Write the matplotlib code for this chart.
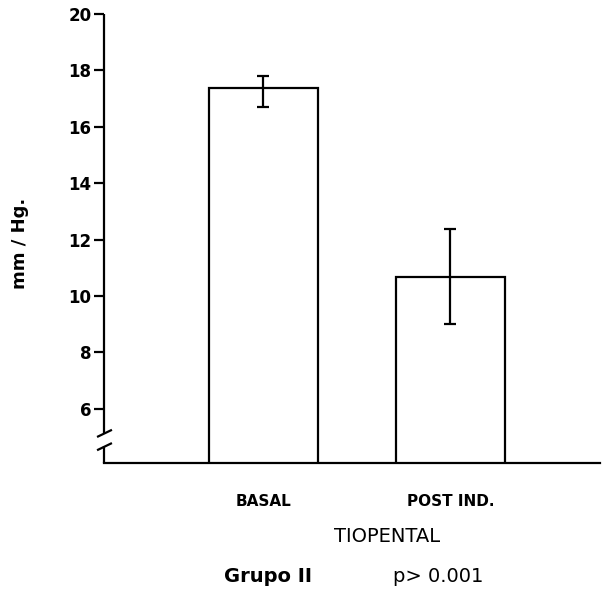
import matplotlib
matplotlib.use("Agg")
import matplotlib.pyplot as plt

# data
groups = ["BASAL", "POST IND."]
means = [17.38, 10.67]
err_low = [16.70, 9.01]
err_high = [17.80, 12.38]
yticks = [6, 8, 10, 12, 14, 16, 18, 20]

plt.rcParams["font.family"] = ["DejaVu Sans"]

fig = plt.figure(figsize=(6.06, 6.01), dpi=100)
ax = fig.add_axes([104 / 606, 0.2296, 496 / 606, 0.7471])

x = list(range(len(groups)))
yerr = [[m - lo for m, lo in zip(means, err_low)],
        [hi - m for m, hi in zip(means, err_high)]]
ax.bar(x, means, width=0.58, bottom=0, color="white", edgecolor="black",
       linewidth=1.6, zorder=2)
ax.errorbar(x, means, yerr=yerr, fmt="none", ecolor="black", elinewidth=1.6,
            capsize=4.5, capthick=1.6, zorder=3)

ax.set_xlim(-0.853, 1.80)
ax.set_ylim(4.08, 20)

# axes styling
for s in ["top", "right", "left"]:
    ax.spines[s].set_visible(False)
ax.spines["bottom"].set_linewidth(1.6)

# broken y axis drawn by hand
yt = ax.get_yaxis_transform()
ax.plot([0, 0], [5.15, 20], color="black", lw=1.6, transform=yt,
        clip_on=False, solid_capstyle="butt")
ax.plot([0, 0], [4.08, 4.68], color="black", lw=1.6, transform=yt,
        clip_on=False, solid_capstyle="butt")
for yb in [5.12, 4.65]:
    ax.plot([-0.012, 0.014], [yb - 0.1, yb + 0.12], color="black", lw=1.6,
            transform=yt, clip_on=False)

ax.set_yticks(yticks)
ax.set_yticklabels([str(t) for t in yticks], fontsize=12, fontweight="bold")
ax.tick_params(axis="y", direction="out", length=7, width=1.6, pad=2)

ax.set_xticks(x)
ax.set_xticklabels(groups, fontsize=11, fontweight="bold")
ax.tick_params(axis="x", length=0, pad=22)

fig.text(20 / 606, 0.595, "mm / Hg.", rotation=90, ha="center", va="center",
         fontsize=13, fontweight="bold")
fig.text(387 / 606, 0.1065, "TIOPENTAL", ha="center", va="center", fontsize=14)
fig.text(268 / 606, 0.04, "Grupo II", ha="center", va="center", fontsize=14,
         fontweight="bold")
fig.text(438 / 606, 0.04, "p> 0.001", ha="center", va="center", fontsize=14)

fig.savefig("out.png", dpi=100)
